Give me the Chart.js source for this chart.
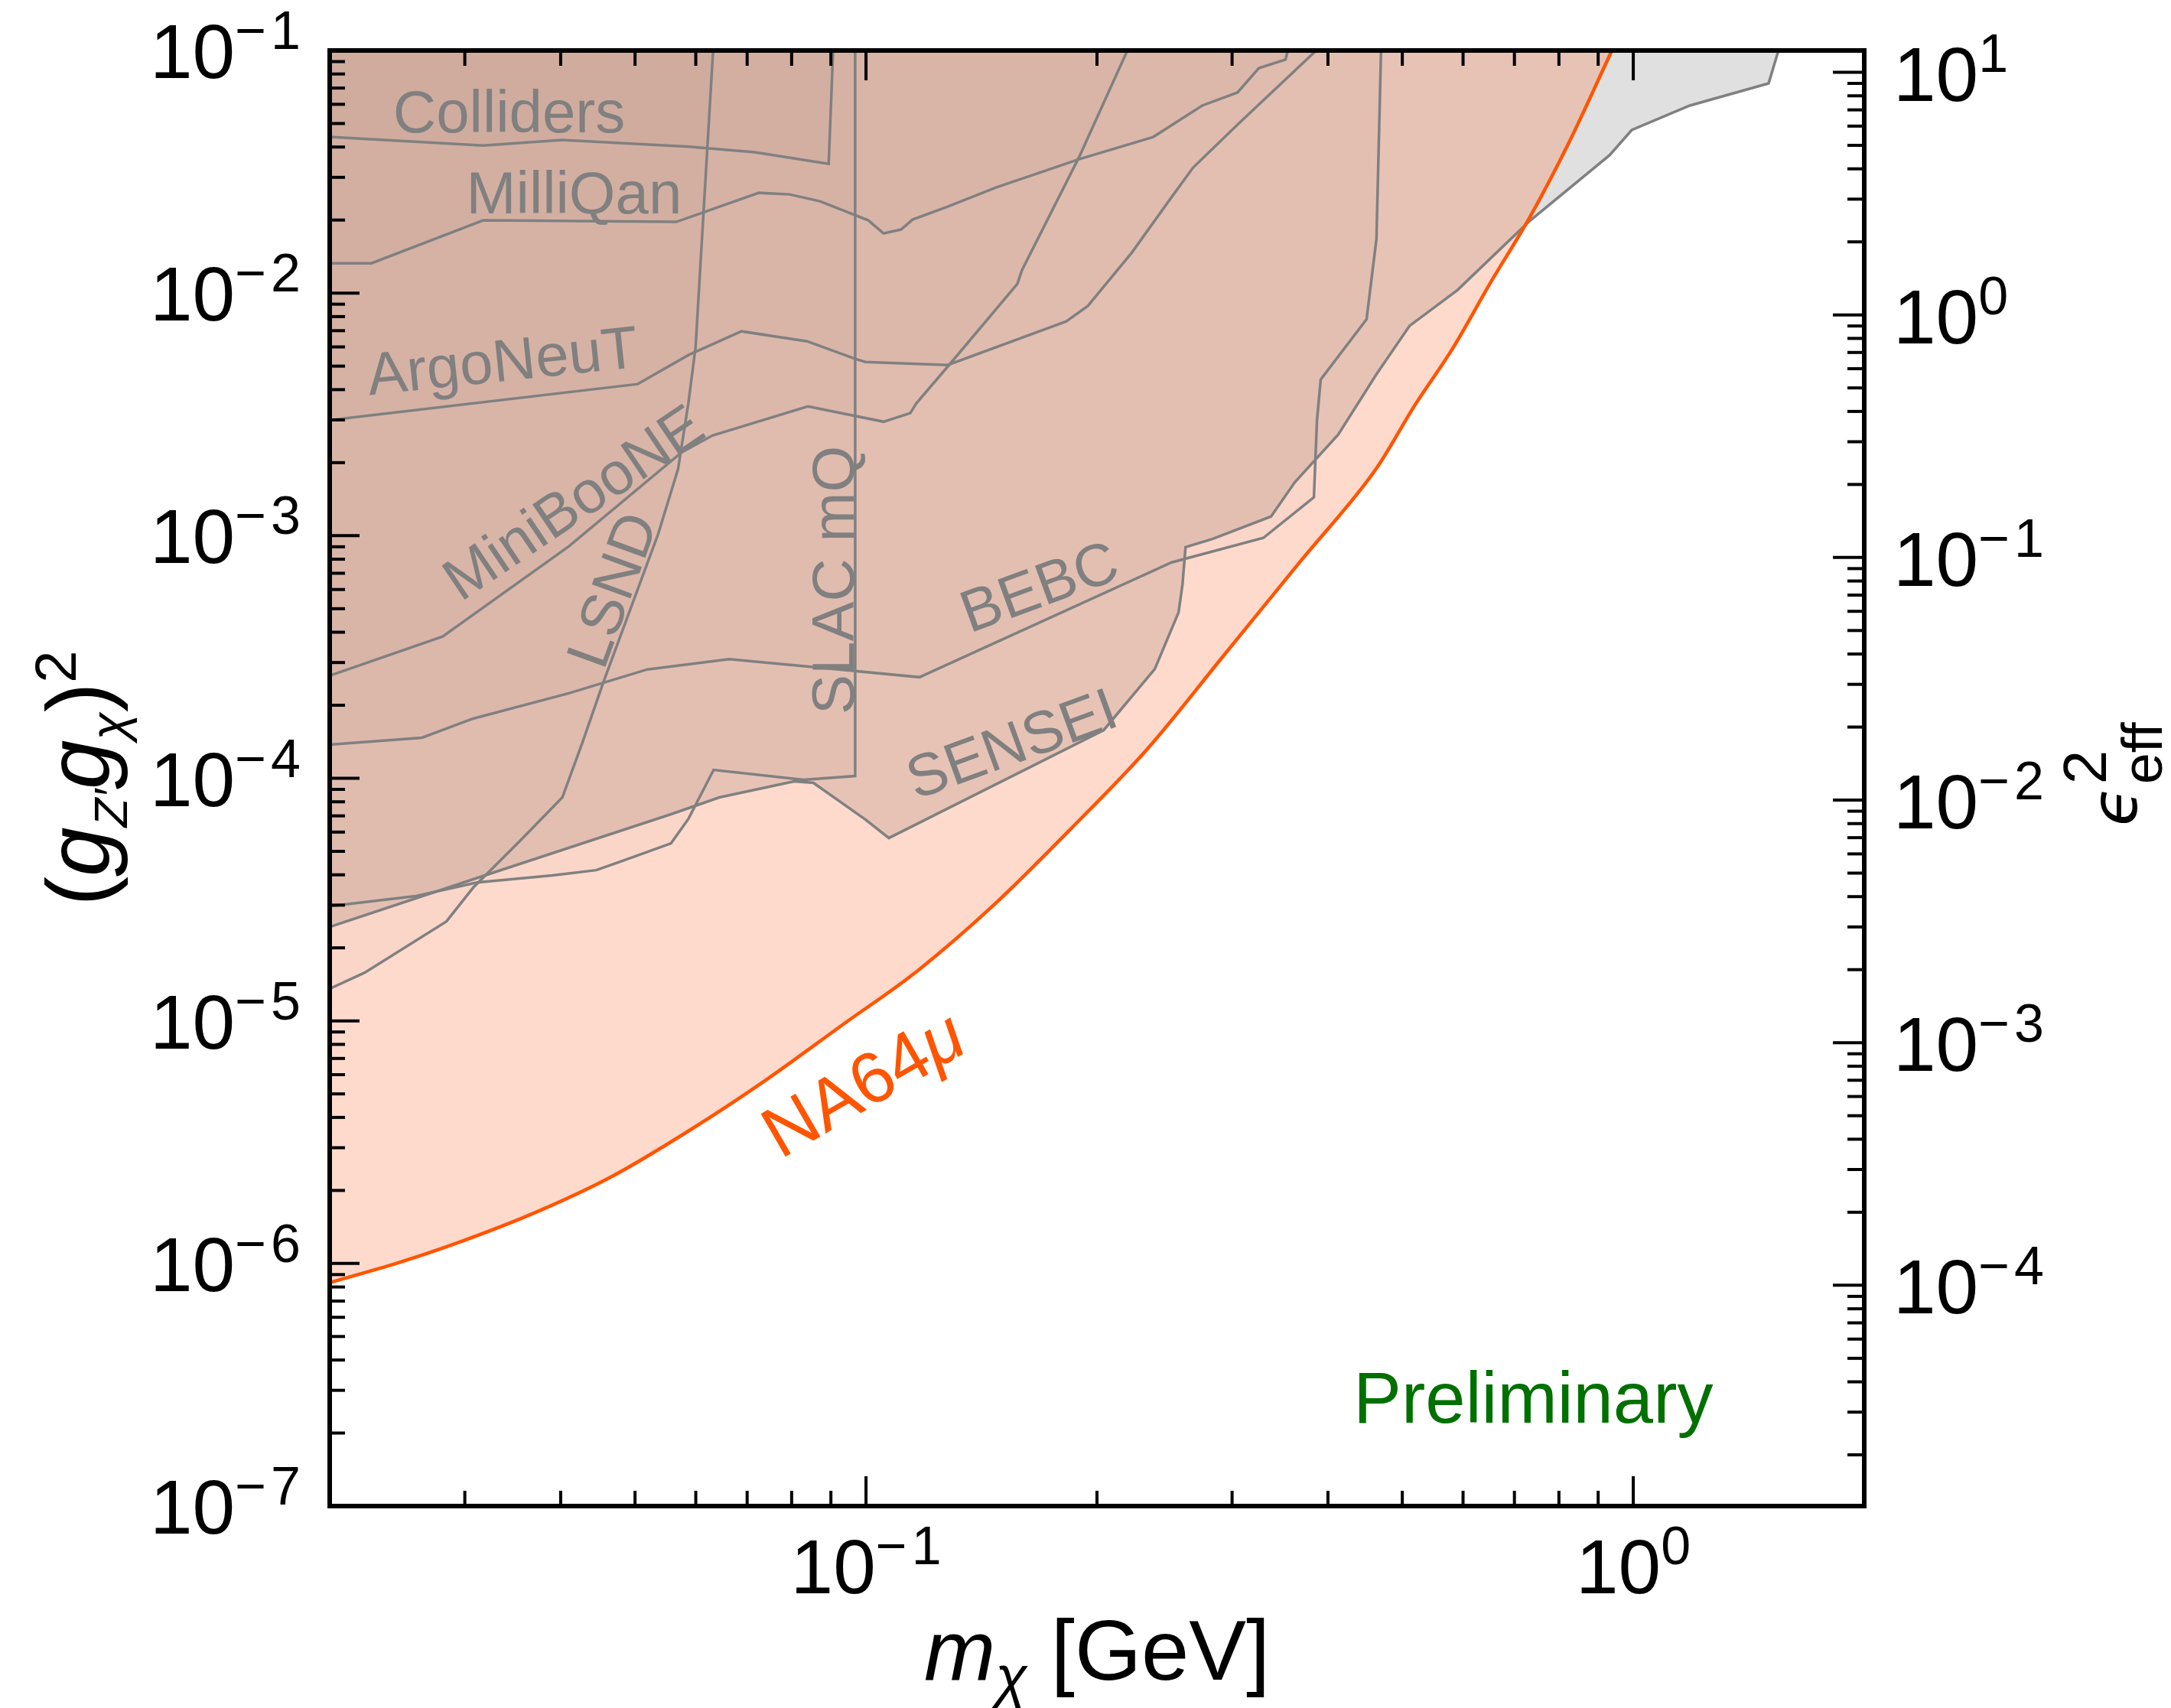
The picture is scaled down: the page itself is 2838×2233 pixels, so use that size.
<!DOCTYPE html>
<html>
<head>
<meta charset="utf-8">
<script src="https://cdn.jsdelivr.net/npm/chart.js@4.4.1/dist/chart.umd.min.js"></script>
<style>
  html, body { margin: 0; padding: 0; background: #fff; }
  canvas { display: block; }
</style>
</head>
<body>
<canvas id="limits" width="2838" height="2233"></canvas>
<script>
// --- data: m_chi [GeV] vs (g_Z' g_chi)^2 ---
const na64X = [0.02, 0.02457, 0.02953, 0.03713, 0.04671, 0.05873, 0.07385, 0.09292, 0.1169, 0.1470, 0.1849, 0.2325, 0.2924, 0.3679, 0.4627, 0.5189, 0.5819, 0.6527, 0.7320, 0.8210, 0.938];
const na64Y = [8.34e-7, 1.007e-6, 1.225e-6, 1.626e-6, 2.29e-6, 3.52e-6, 5.67e-6, 9.57e-6, 1.615e-5, 3.02e-5, 6.19e-5, 1.318e-4, 3.20e-4, 7.81e-4, 1.895e-3, 3.44e-3, 5.93e-3, 0.01115, 0.02037, 0.04063, 0.1];

const collidersX = [0.02, 0.0317, 0.0402, 0.0587, 0.0716, 0.0894, 0.0906];
const collidersY = [0.0440, 0.0406, 0.0428, 0.0401, 0.0381, 0.0341, 0.1];

const milliqanX = [0.02, 0.02267, 0.0317, 0.0566, 0.0725, 0.0795, 0.0871, 0.1007, 0.1054, 0.1111, 0.1150, 0.1278, 0.1477, 0.1896, 0.2368, 0.2743, 0.3049, 0.3251, 0.3522, 0.3546];
const milliqanY = [0.01327, 0.01327, 0.01994, 0.01965, 0.02589, 0.02552, 0.02390, 0.01994, 0.01762, 0.01828, 0.02009, 0.02272, 0.02724, 0.03565, 0.0440, 0.0593, 0.0671, 0.0846, 0.0917, 0.1];

const argoX = [0.02, 0.0504, 0.0587, 0.0688, 0.0838, 0.0968, 0.0998, 0.1278, 0.1824, 0.1945, 0.2221, 0.2496, 0.2669, 0.3049, 0.3862];
const argoY = [0.002995, 0.004216, 0.005554, 0.006957, 0.006328, 0.005355, 0.0052, 0.005052, 0.007644, 0.008841, 0.01470, 0.02461, 0.03292, 0.04943, 0.1];

const minibooneX = [0.02, 0.02807, 0.04098, 0.05754, 0.0631, 0.0840, 0.1054, 0.1142, 0.1163, 0.1293, 0.1575, 0.1597, 0.1896, 0.2191];
const minibooneY = [2.65e-4, 3.84e-4, 9.03e-4, 2.21e-3, 2.59e-3, 3.41e-3, 2.95e-3, 3.20e-3, 3.51e-3, 0.0052, 0.01091, 0.01243, 0.03642, 0.1];

const lsndX = [0.02, 0.02221, 0.02839, 0.03076, 0.03555, 0.0402, 0.04272, 0.04545, 0.05359, 0.05689, 0.0587, 0.05997, 0.06081, 0.0632];
const lsndY = [1.357e-5, 1.58e-5, 2.57e-5, 3.54e-5, 5.59e-5, 8.34e-5, 1.41e-4, 2.48e-4, 1.015e-3, 1.88e-3, 3.54e-3, 6.01e-3, 0.0127, 0.1];

const slacX = [0.02, 0.0259, 0.0311, 0.0390, 0.0445, 0.0478, 0.0557, 0.0587, 0.0633, 0.0829, 0.0968, 0.0968];
const slacY = [2.97e-5, 3.27e-5, 3.72e-5, 3.98e-5, 4.18e-5, 4.53e-5, 5.39e-5, 6.81e-5, 1.083e-4, 9.86e-5, 1.022e-4, 0.1];

const bebcX = [0.02, 0.02638, 0.03076, 0.04098, 0.0519, 0.0663, 0.0858, 0.1174, 0.2503, 0.3295, 0.3835, 0.3870, 0.3914, 0.4492, 0.4627, 0.4691];
const bebcY = [1.377e-4, 1.47e-4, 1.762e-4, 2.24e-4, 2.81e-4, 3.10e-4, 2.87e-4, 2.61e-4, 7.76e-4, 9.79e-4, 1.44e-3, 2.97e-3, 4.40e-3, 7.81e-3, 0.01675, 0.1];

const senseiX = [0.02, 0.03141, 0.0557, 0.0644, 0.0806, 0.0854, 0.0998, 0.1071, 0.2041, 0.2379, 0.2555, 0.2585, 0.2609, 0.2833, 0.3372, 0.3621, 0.4125, 0.4627, 0.5108, 0.5902, 0.7303, 0.9313, 0.9954, 1.185, 1.501, 1.546];
const senseiY = [2.44e-5, 3.92e-5, 7.11e-5, 8.34e-5, 9.71e-5, 9.57e-5, 6.76e-5, 5.67e-5, 1.58e-4, 2.82e-4, 4.83e-4, 6.28e-4, 8.97e-4, 9.71e-4, 1.20e-3, 1.66e-3, 2.61e-3, 4.63e-3, 7.32e-3, 0.0103, 0.01965, 0.0370, 0.0470, 0.0593, 0.0732, 0.1];

// tick labels (value, exponent text)
const xTickVals = [0.1, 1];
const xTickExp = ['\u22121', '0'];
const yTickVals = [1e-7, 1e-6, 1e-5, 1e-4, 1e-3, 1e-2, 1e-1];
const yTickExp = ['\u22127', '\u22126', '\u22125', '\u22124', '\u22123', '\u22122', '\u22121'];
const y2TickVals = [1e-4, 1e-3, 1e-2, 1e-1, 1, 10];
const y2TickExp = ['\u22124', '\u22123', '\u22122', '\u22121', '0', '1'];

// experiment names placed at (mass, coupling), rotation in degrees
const expNames = ['Colliders', 'MilliQan', 'ArgoNeuT', 'MiniBooNE', 'LSND', 'SLAC mQ', 'BEBC', 'SENSEI'];
const expNameX = [0.03427, 0.04164, 0.03357, 0.04144, 0.04650, 0.09042, 0.1679, 0.1546];
const expNameY = [0.05633, 0.02609, 0.005317, 1.387e-3, 6.01e-4, 6.56e-4, 6.24e-4, 1.406e-4];
const expNameRot = [0, 0, -6, -34, -70, -90, -20, -20];

const FONT = '"Liberation Sans", Arial, Helvetica, sans-serif';
const GRAY = 'rgb(128,128,128)';
const ORANGE = '#ff5500';

function pts(xs, ys) {
  return xs.map((x, i) => ({ x: x, y: ys[i] }));
}

function limitSet(label, xs, ys, fillColor) {
  return {
    label: label,
    data: pts(xs, ys),
    borderColor: GRAY,
    borderWidth: 3.5,
    pointRadius: 0,
    tension: 0,
    fill: 'end',
    backgroundColor: fillColor
  };
}

function seg(ctx, x1, y1, x2, y2) {
  ctx.beginPath();
  ctx.moveTo(x1, y1);
  ctx.lineTo(x2, y2);
  ctx.stroke();
}

function logTicks(min, max) {
  const out = [];
  for (let k = Math.floor(Math.log10(min)); k <= Math.ceil(Math.log10(max)); k++) {
    for (let m = 1; m <= 9; m++) {
      const v = m * Math.pow(10, k);
      if (v >= min * 0.9999 && v <= max * 1.0001) out.push({ v: v, major: m === 1 });
    }
  }
  return out;
}

// "10" with a raised exponent
function drawPow(ctx, exp, x, y, align) {
  ctx.font = '100px ' + FONT;
  const w1 = ctx.measureText('10').width;
  ctx.font = '70px ' + FONT;
  const parts = exp.charAt(0) === '\u2212' ? ['\u2212', exp.slice(1)] : [exp];
  const gap = 6;
  let w2 = 0;
  parts.forEach((p, i) => { w2 += ctx.measureText(p).width + (i ? gap : 0); });
  let x0 = x;
  if (align === 'right') x0 = x - w1 - w2;
  if (align === 'center') x0 = x - (w1 + w2) / 2;
  ctx.font = '100px ' + FONT;
  ctx.fillText('10', x0, y);
  ctx.font = '70px ' + FONT;
  let cx = x0 + w1;
  parts.forEach((p, i) => {
    if (i) cx += gap;
    ctx.fillText(p, cx, y - 38);
    cx += ctx.measureText(p).width;
  });
}

// pieces: [text, font, dy]
function drawPieces(ctx, pieces, x, y, align) {
  let w = 0;
  pieces.forEach(p => { ctx.font = p[1]; p.w = ctx.measureText(p[0]).width; w += p.w; });
  let cx = align === 'center' ? x - w / 2 : x;
  pieces.forEach(p => { ctx.font = p[1]; ctx.fillText(p[0], cx, y + p[2]); cx += p.w; });
}

const framePlugin = {
  id: 'frameAndText',
  beforeDraw(chart) {
    const ctx = chart.ctx;
    ctx.save();
    ctx.fillStyle = '#fff';
    ctx.fillRect(0, 0, chart.width, chart.height);
    ctx.restore();
  },
  afterDraw(chart) {
    const ctx = chart.ctx;
    const a = chart.chartArea;
    const sx = chart.scales.x, sy = chart.scales.y, sy2 = chart.scales.y2;
    ctx.save();

    // experiment names
    ctx.fillStyle = GRAY;
    ctx.textAlign = 'center';
    ctx.textBaseline = 'alphabetic';
    ctx.font = '78px ' + FONT;
    expNames.forEach((name, i) => {
      ctx.save();
      ctx.translate(sx.getPixelForValue(expNameX[i]), sy.getPixelForValue(expNameY[i]));
      ctx.rotate(expNameRot[i] * Math.PI / 180);
      ctx.fillText(name, 0, 28);
      ctx.restore();
    });

    // NA64mu label
    ctx.save();
    ctx.fillStyle = ORANGE;
    ctx.translate(sx.getPixelForValue(0.0989), sy.getPixelForValue(5.59e-6));
    ctx.rotate(-30 * Math.PI / 180);
    ctx.textAlign = 'left';
    drawPieces(ctx, [['NA64', '94px ' + FONT, 0], ['\u03bc', 'italic 94px ' + FONT, 0]], 0, 34, 'center');
    ctx.restore();

    // Preliminary
    ctx.fillStyle = 'rgb(0,112,0)';
    ctx.textAlign = 'left';
    ctx.font = '94px ' + FONT;
    ctx.fillText('Preliminary', sx.getPixelForValue(0.4319), sy.getPixelForValue(2.21e-7));

    // frame
    ctx.strokeStyle = '#000';
    ctx.lineWidth = 6;
    ctx.strokeRect(a.left, a.top, a.right - a.left, a.bottom - a.top);

    // ticks
    ctx.lineWidth = 4;
    logTicks(sx.min, sx.max).forEach(t => {
      const px = sx.getPixelForValue(t.v);
      const L = t.major ? 39 : 20;
      seg(ctx, px, a.bottom, px, a.bottom - L);
      seg(ctx, px, a.top, px, a.top + L);
    });
    logTicks(sy.min, sy.max).forEach(t => {
      const py = sy.getPixelForValue(t.v);
      seg(ctx, a.left, py, a.left + (t.major ? 39 : 20), py);
    });
    logTicks(sy2.min, sy2.max).forEach(t => {
      const py = sy2.getPixelForValue(t.v);
      seg(ctx, a.right, py, a.right - (t.major ? 41 : 22), py);
    });

    // tick labels
    ctx.fillStyle = '#000';
    ctx.textAlign = 'left';
    ctx.textBaseline = 'alphabetic';
    yTickVals.forEach((v, i) => drawPow(ctx, yTickExp[i], a.left - 38, sy.getPixelForValue(v) + 36, 'right'));
    xTickVals.forEach((v, i) => drawPow(ctx, xTickExp[i], sx.getPixelForValue(v), a.bottom + 114, 'center'));
    y2TickVals.forEach((v, i) => drawPow(ctx, y2TickExp[i], a.right + 38, sy2.getPixelForValue(v) + 37, 'left'));

    // x title
    drawPieces(ctx, [
      ['m', 'italic 112px ' + FONT, 0],
      ['\u03c7', 'italic 76px ' + FONT, 22],
      [' [GeV]', '112px ' + FONT, 0]
    ], (a.left + a.right) / 2, 2196, 'center');

    // left y title
    ctx.save();
    ctx.translate(143, (a.top + a.bottom) / 2);
    ctx.rotate(-Math.PI / 2);
    drawPieces(ctx, [
      ['(', '116px ' + FONT, 0],
      ['g', 'italic 116px ' + FONT, 0],
      ['Z\u2032', 'italic 62px ' + FONT, 23],
      ['g', 'italic 116px ' + FONT, 0],
      ['\u03c7', 'italic 66px ' + FONT, 22],
      [')', '116px ' + FONT, 0],
      ['2', '76px ' + FONT, -44]
    ], 0, 0, 'center');
    ctx.restore();

    // right y title: eps^2_eff
    ctx.save();
    ctx.translate(2793, 1080);
    ctx.rotate(-Math.PI / 2);
    ctx.font = 'italic 84px "DejaVu Sans", ' + FONT;
    ctx.fillText('\u03f5', 0, 0);
    const we = ctx.measureText('\u03f5').width + 3;
    ctx.font = '80px ' + FONT;
    ctx.fillText('2', we, -40);
    ctx.font = '74px ' + FONT;
    ctx.fillText('eff', we, 33);
    ctx.restore();

    ctx.restore();
  }
};

new Chart(document.getElementById('limits'), {
  type: 'line',
  data: {
    datasets: [
      {
        label: 'NA64mu',
        data: pts(na64X, na64Y),
        borderColor: ORANGE,
        borderWidth: 4.5,
        pointRadius: 0,
        cubicInterpolationMode: 'monotone',
        fill: 'end',
        backgroundColor: 'rgba(250,120,70,0.27)'
      },
      limitSet('Colliders', collidersX, collidersY, 'rgba(0,0,0,0.018)'),
      limitSet('MilliQan', milliqanX, milliqanY, 'rgba(0,0,0,0.018)'),
      limitSet('ArgoNeuT', argoX, argoY, 'rgba(0,0,0,0.018)'),
      limitSet('MiniBooNE', minibooneX, minibooneY, 'rgba(0,0,0,0.018)'),
      limitSet('LSND', lsndX, lsndY, 'rgba(0,0,0,0.018)'),
      limitSet('SLAC mQ', slacX, slacY, 'rgba(0,0,0,0.018)'),
      limitSet('BEBC', bebcX, bebcY, 'rgba(0,0,0,0.018)'),
      limitSet('SENSEI', senseiX, senseiY, 'rgba(0,0,0,0.12)')
    ]
  },
  options: {
    responsive: false,
    animation: false,
    devicePixelRatio: 1,
    events: [],
    layout: { padding: { left: 431, right: 401, top: 66, bottom: 264 } },
    scales: {
      x: { type: 'logarithmic', min: 0.02, max: 2, display: false },
      y: { type: 'logarithmic', min: 1e-7, max: 0.1, display: false },
      y2: { type: 'logarithmic', position: 'right', min: 1.23e-5, max: 12.3, display: false }
    },
    plugins: {
      legend: { display: false },
      tooltip: { enabled: false },
      filler: { drawTime: 'beforeDatasetsDraw' }
    }
  },
  plugins: [framePlugin]
});
</script>
</body>
</html>
